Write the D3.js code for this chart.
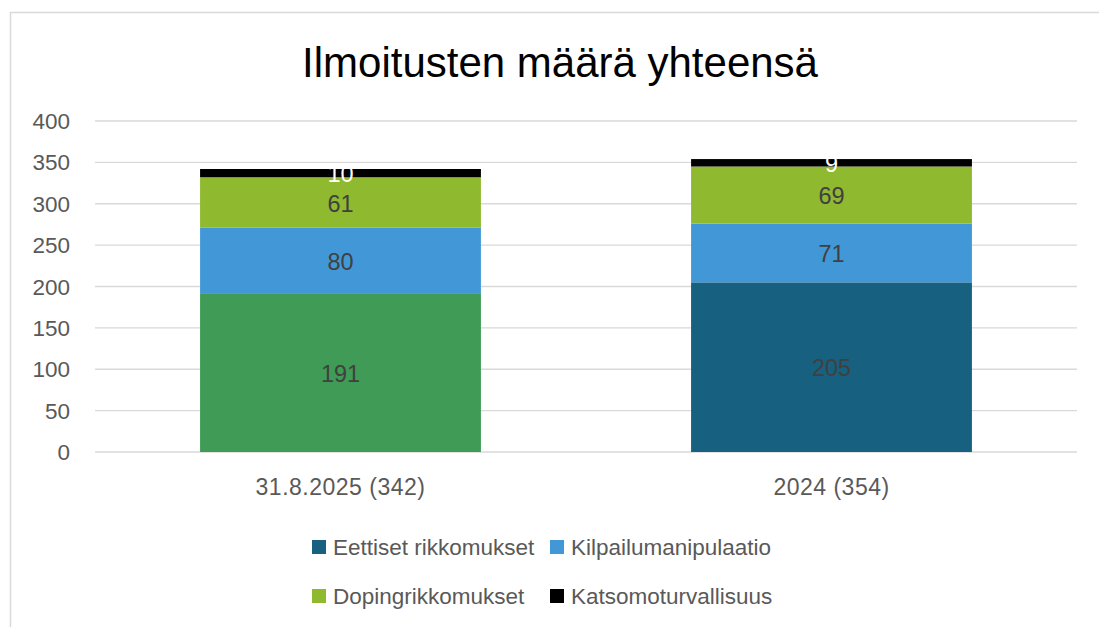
<!DOCTYPE html>
<html>
<head>
<meta charset="utf-8">
<script src="https://cdn.jsdelivr.net/npm/d3@7"></script>
<style>
  body { margin: 0; background: #fff; }
  text { font-family: "Liberation Sans", Arial, sans-serif; }
</style>
</head>
<body>
<svg id="chart" width="1099" height="627"></svg>
<script>
const categories = ['31.8.2025 (342)', '2024 (354)'];
const seriesNames = ['Eettiset rikkomukset', 'Kilpailumanipulaatio', 'Dopingrikkomukset', 'Katsomoturvallisuus'];
const eettiset = [191, 205];
const kilpailu = [80, 71];
const doping = [61, 69];
const katsomo = [10, 9];
const yTicks = [0, 50, 100, 150, 200, 250, 300, 350, 400];

const colors = ['#17607f', '#4298d6', '#8fb92f', '#000000'];
// first bar's bottom segment was recoloured in the original
const pointColors = { '0-0': '#3f9b55' };

const svg = d3.select('#chart');
const plotL = 95, plotR = 1077, plotT = 121, plotB = 452;

// frame
svg.append('path')
  .attr('d', 'M10.5,627 L10.5,12.5 L1099,12.5')
  .attr('fill', 'none')
  .attr('stroke', '#d9d9d9')
  .attr('stroke-width', 1.5);

svg.append('text')
  .attr('x', 560).attr('y', 77)
  .attr('text-anchor', 'middle')
  .attr('font-size', 42)
  .attr('fill', '#000')
  .text('Ilmoitusten määrä yhteensä');

const x = d3.scaleBand().domain(categories).range([plotL, plotR]);
const y = d3.scaleLinear().domain([0, 400]).range([plotB, plotT]);
const barW = x.bandwidth() * 0.572;

// gridlines
svg.append('g').selectAll('line').data(yTicks).join('line')
  .attr('x1', plotL).attr('x2', plotR)
  .attr('y1', d => y(d)).attr('y2', d => y(d))
  .attr('stroke', '#d9d9d9').attr('stroke-width', 1.3);

svg.append('g').selectAll('text').data(yTicks).join('text')
  .attr('x', 70).attr('y', d => y(d) + 8)
  .attr('text-anchor', 'end')
  .attr('font-size', 22.5)
  .attr('fill', '#595959')
  .text(d => d);

const rows = categories.map((c, i) => ({
  cat: c, s0: eettiset[i], s1: kilpailu[i], s2: doping[i], s3: katsomo[i]
}));
const stack = d3.stack().keys(['s0', 's1', 's2', 's3'])(rows);

const layers = svg.append('g').selectAll('g').data(stack).join('g');
layers.selectAll('rect').data((d, k) => d.map((p, i) => ({ p, k, i }))).join('rect')
  .attr('x', d => x(d.p.data.cat) + (x.bandwidth() - barW) / 2)
  .attr('width', barW)
  .attr('y', d => y(d.p[1]))
  .attr('height', d => y(d.p[0]) - y(d.p[1]))
  .attr('fill', d => pointColors[d.k + '-' + d.i] || colors[d.k]);

layers.selectAll('text').data((d, k) => d.map((p, i) => ({ p, k, i }))).join('text')
  .attr('x', d => x(d.p.data.cat) + x.bandwidth() / 2)
  .attr('y', d => y((d.p[0] + d.p[1]) / 2) + 9)
  .attr('text-anchor', 'middle')
  .attr('font-size', 23.5)
  .attr('fill', d => d.k === 3 ? '#fff' : '#404040')
  .text(d => d.p[1] - d.p[0]);

svg.append('g').selectAll('text').data(categories).join('text')
  .attr('x', d => x(d) + x.bandwidth() / 2)
  .attr('y', 495)
  .attr('text-anchor', 'middle')
  .attr('font-size', 23)
  .attr('letter-spacing', 0.5)
  .attr('fill', '#595959')
  .text(d => d);

// legend
const legendPos = [[312, 547], [550, 547], [312, 596], [550, 596]];
const lg = svg.append('g').selectAll('g').data(seriesNames).join('g')
  .attr('transform', (d, i) => `translate(${legendPos[i][0]},${legendPos[i][1]})`);
lg.append('rect').attr('x', 0).attr('y', -7).attr('width', 14).attr('height', 14)
  .attr('fill', (d, i) => colors[i]);
lg.append('text').attr('x', 21).attr('y', 8)
  .attr('font-size', 22.5)
  .attr('fill', '#595959')
  .text(d => d);
</script>
</body>
</html>
